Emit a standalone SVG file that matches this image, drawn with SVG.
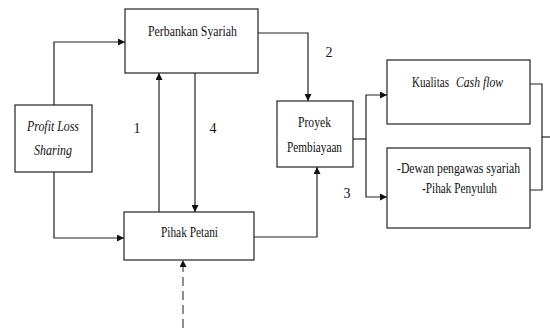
<svg xmlns="http://www.w3.org/2000/svg" width="550" height="328" viewBox="0 0 550 328">
<style>
.box{fill:#fff;stroke:#222;stroke-width:1.2}
.ln{fill:none;stroke:#222;stroke-width:1.2}
.dash{fill:none;stroke:#444;stroke-width:1.2;stroke-dasharray:9,5}
.t{font-family:"Liberation Serif","DejaVu Serif","Times New Roman",serif;font-size:14px;fill:#111}
.c{text-anchor:middle}
.i{font-style:italic}
</style>
<defs>
<marker id="ah" viewBox="0 0 10 10" refX="10" refY="5" markerWidth="7" markerHeight="7" markerUnits="userSpaceOnUse" orient="auto">
<path d="M0,0 L10,5 L0,10 z" fill="#111"/>
</marker>
</defs>
<rect width="550" height="328" fill="#fff"/>
<g id="connectors">
<polyline class="ln" points="54,105 54,42 125,42" marker-end="url(#ah)"/>
<polyline class="ln" points="54,172 54,238 124,238" marker-end="url(#ah)"/>
<line class="ln" x1="159" y1="212" x2="159" y2="73" marker-end="url(#ah)"/>
<line class="ln" x1="195" y1="73" x2="195" y2="212" marker-end="url(#ah)"/>
<polyline class="ln" points="258,33 308,33 308,101" marker-end="url(#ah)"/>
<polyline class="ln" points="254,237 317,237 317,167" marker-end="url(#ah)"/>
<line class="dash" x1="183" y1="328" x2="183" y2="260" marker-end="url(#ah)"/>
<line class="ln" x1="353" y1="139" x2="366" y2="139"/>
<polyline class="ln" points="366,139 366,95 387,95" marker-end="url(#ah)"/>
<polyline class="ln" points="366,139 366,197 387,197" marker-end="url(#ah)"/>
<polyline class="ln" points="530,84 542,84 542,190 530,190"/>
<line class="ln" x1="542" y1="137" x2="550" y2="137"/>
<text x="137" y="133" class="t c">1</text>
<text x="213" y="133" class="t c">4</text>
<text x="329" y="57" class="t c">2</text>
<text x="347" y="198" class="t c">3</text>
</g>
<g id="perbankan">
<rect class="box" x="125" y="9" width="133" height="64"/>
<text x="192.5" y="36" class="t c" textLength="89" lengthAdjust="spacingAndGlyphs">Perbankan Syariah</text>
</g>
<g id="pls">
<rect class="box" x="15" y="105" width="77" height="67"/>
<text x="53" y="131" class="t c i" textLength="52" lengthAdjust="spacingAndGlyphs">Profit Loss</text>
<text x="53" y="155" class="t c i" textLength="38" lengthAdjust="spacingAndGlyphs">Sharing</text>
</g>
<g id="petani">
<rect class="box" x="124" y="212" width="130" height="48"/>
<text x="189.5" y="237" class="t c" textLength="57" lengthAdjust="spacingAndGlyphs">Pihak Petani</text>
</g>
<g id="proyek">
<rect class="box" x="277" y="101" width="76" height="66"/>
<text x="314.5" y="127" class="t c" textLength="33" lengthAdjust="spacingAndGlyphs">Proyek</text>
<text x="314.5" y="152" class="t c" textLength="55" lengthAdjust="spacingAndGlyphs">Pembiayaan</text>
</g>
<g id="kualitas">
<rect class="box" x="387" y="60" width="143" height="64"/>
<text x="412" y="87" class="t" textLength="37" lengthAdjust="spacingAndGlyphs">Kualitas</text>
<text x="456" y="87" class="t i" textLength="47" lengthAdjust="spacingAndGlyphs">Cash flow</text>
</g>
<g id="dewan">
<rect class="box" x="387" y="148" width="143" height="80"/>
<text x="458.5" y="173" class="t c" textLength="123" lengthAdjust="spacingAndGlyphs">-Dewan pengawas syariah</text>
<text x="459.5" y="193" class="t c" textLength="75" lengthAdjust="spacingAndGlyphs">-Pihak Penyuluh</text>
</g>
</svg>
